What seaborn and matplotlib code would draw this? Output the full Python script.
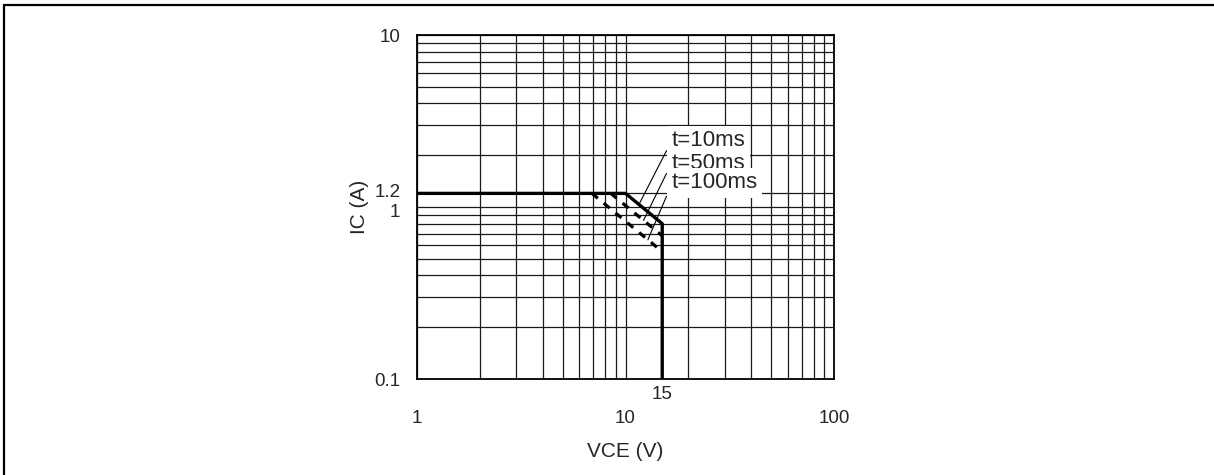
import matplotlib
matplotlib.use("Agg")
import matplotlib.pyplot as plt
import matplotlib.transforms as mtransforms
from matplotlib.lines import Line2D
from matplotlib.ticker import LogLocator, NullFormatter
import seaborn as sns

# safe operating area curves, VCE (V) vs IC (A)
vce_10ms = [1, 10, 15, 15]
ic_10ms = [1.2, 1.2, 0.8, 0.1]
vce_50ms = [8.5, 15]
ic_50ms = [1.2, 0.68]
vce_100ms = [6.9, 15]
ic_100ms = [1.2, 0.55]

labels = ["t=10ms", "t=50ms", "t=100ms"]
label_tips = [(11.6, 12 / 11.6), (12.2, 10.2 / 12.2), (12.8, 8.25 / 12.8)]
label_pos = [(16.6, 2.42), (16.6, 1.8), (16.6, 1.38)]

x_ticks = [1, 10, 100]
y_ticks = [0.1, 1, 1.2, 10]
y_ticklabels = ["0.1", "1", "1.2", "10"]

sns.set_style("white")
plt.rcParams["font.family"] = ["Liberation Sans", "DejaVu Sans"]

fig = plt.figure(figsize=(12.14, 4.75), dpi=100)
ax = fig.add_axes([0.3435, 0.2021, 0.3435, 0.7242])

ax.set_xscale("log")
ax.set_yscale("log")
ax.set_xlim(1, 100)
ax.set_ylim(0.1, 10)

ax.xaxis.set_minor_locator(LogLocator(base=10, subs=range(2, 10)))
ax.yaxis.set_minor_locator(LogLocator(base=10, subs=range(2, 10)))
ax.xaxis.set_minor_formatter(NullFormatter())
ax.yaxis.set_minor_formatter(NullFormatter())
ax.grid(which="both", color="#1a1a1a", lw=0.9)
ax.set_axisbelow(True)

sns.lineplot(x=vce_10ms, y=ic_10ms, sort=False, estimator=None, color="black", lw=2.4, ax=ax)
sns.lineplot(x=vce_50ms, y=ic_50ms, sort=False, estimator=None, color="black", lw=2.3,
             ax=ax).lines[-1].set_dashes((2.4, 2.4))
sns.lineplot(x=vce_100ms, y=ic_100ms, sort=False, estimator=None, color="black", lw=2.3,
             ax=ax).lines[-1].set_dashes((2.4, 2.4))

for txt, tip, pos in zip(labels, label_tips, label_pos):
    ax.annotate(txt, xy=tip, xytext=pos, fontsize=16, va="center", ha="left",
                bbox=dict(boxstyle="square,pad=0.22", fc="white", ec="none"),
                arrowprops=dict(arrowstyle="-", lw=0.8, color="black", relpos=(0.03, 0.7),
                                shrinkA=0, shrinkB=0))

ax.set_xticks(x_ticks)
ax.set_xticklabels([str(v) for v in x_ticks])
ax.set_yticks(y_ticks)
ax.set_yticklabels(y_ticklabels)
ax.tick_params(which="both", length=0, labelsize=13.5)
ax.tick_params(axis="x", pad=22)
ax.tick_params(axis="y", pad=12)

# spread the crowded 1 / 1.2 labels a little apart
for lab in ax.get_yticklabels():
    if lab.get_text() == "1.2":
        lab.set_transform(lab.get_transform() + mtransforms.ScaledTranslation(0, 3 / 100, fig.dpi_scale_trans))
    elif lab.get_text() == "1":
        lab.set_transform(lab.get_transform() + mtransforms.ScaledTranslation(0, -3 / 100, fig.dpi_scale_trans))

trans = mtransforms.blended_transform_factory(ax.transData, ax.transAxes)
ax.text(15, -0.045, "15", transform=trans, ha="center", va="center", fontsize=13.5)

ax.set_xlabel("VCE (V)", fontsize=15, labelpad=11)
ax.set_ylabel("IC (A)", fontsize=15, labelpad=4)

for s in ax.spines.values():
    s.set_color("black")
    s.set_linewidth(1.3)

fig.add_artist(Line2D([0.0037, 0.0037], [0, 0.9895], color="black", lw=1.6))
fig.add_artist(Line2D([0.0037, 1], [0.9895, 0.9895], color="black", lw=1.6))

fig.savefig("out.png", dpi=100, facecolor="white")
